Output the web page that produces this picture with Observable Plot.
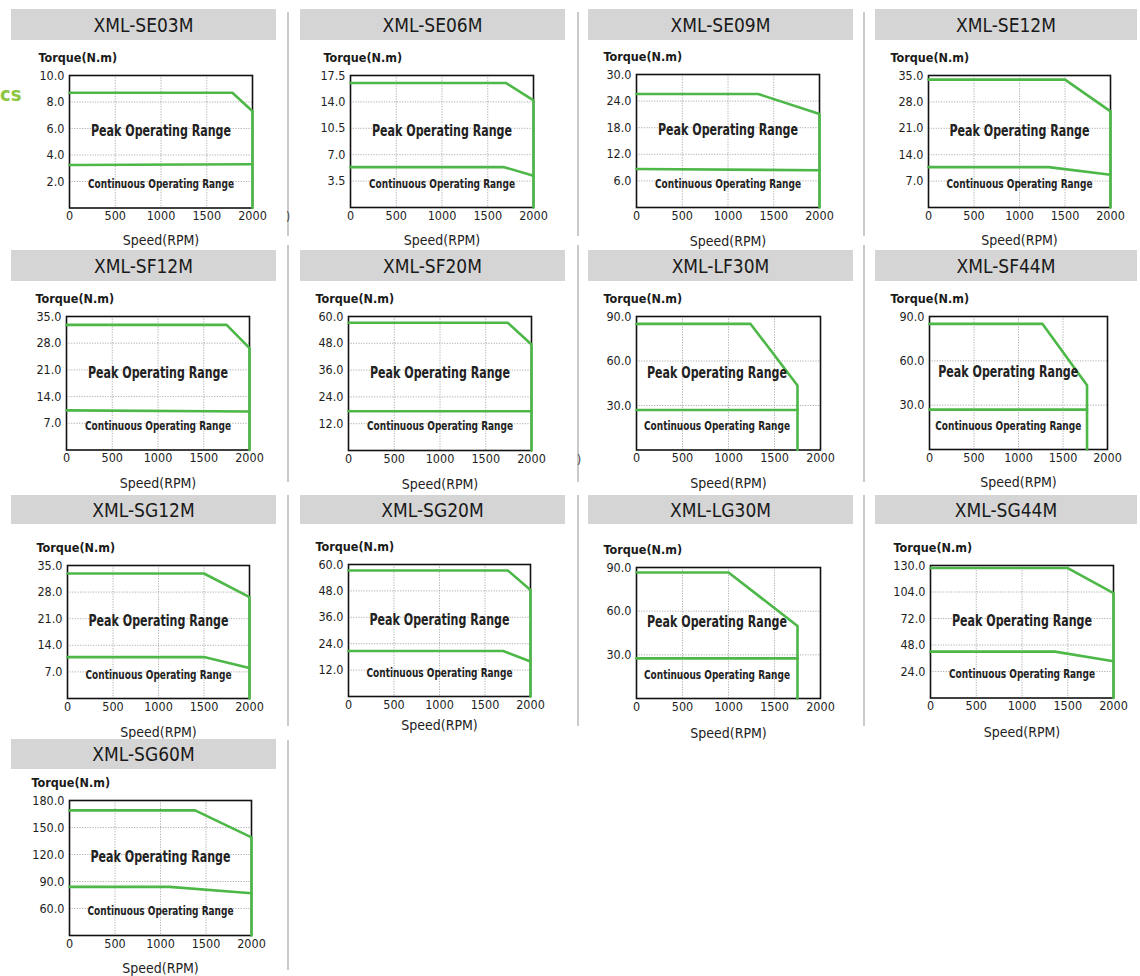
<!DOCTYPE html>
<html>
<head>
<meta charset="utf-8">
<script src="https://cdn.jsdelivr.net/npm/d3@7"></script>
<script src="https://cdn.jsdelivr.net/npm/@observablehq/plot@0.6"></script>
<style>
  body { margin: 0; background: #fff; }
  #page { position: relative; width: 1140px; height: 976px; overflow: hidden; background: #fff; color: #222; }
  .bar { position: absolute; background: #d5d5d5; display: flex; align-items: center; justify-content: center;
         font-family: "DejaVu Sans Condensed", sans-serif; font-size: 19px; color: #1a1a1a; }
  .sep { position: absolute; width: 1.5px; background: #cbcbcb; }
  .frag { position: absolute; font-family: "DejaVu Sans Condensed", sans-serif; }
</style>
</head>
<body>
<div id="page"></div>
<script>
// ---------------- data ----------------
const models = ["XML-SE03M", "XML-SE06M", "XML-SE09M", "XML-SE12M",
                "XML-SF12M", "XML-SF20M", "XML-LF30M", "XML-SF44M",
                "XML-SG12M", "XML-SG20M", "XML-LG30M", "XML-SG44M",
                "XML-SG60M"];
const xTicks = [0, 500, 1000, 1500, 2000];
const yMin = [0, 0, 0, 0, 0, 0, 0, 0, 0, 0, 0, 0, 30];
const yMax = [10, 17.5, 30, 35, 35, 60, 90, 90, 35, 60, 90, 130, 180];
const yTickLabels = [
  ["2.0", "4.0", "6.0", "8.0", "10.0"],
  ["3.5", "7.0", "10.5", "14.0", "17.5"],
  ["6.0", "12.0", "18.0", "24.0", "30.0"],
  ["7.0", "14.0", "21.0", "28.0", "35.0"],
  ["7.0", "14.0", "21.0", "28.0", "35.0"],
  ["12.0", "24.0", "36.0", "48.0", "60.0"],
  ["30.0", "60.0", "90.0"],
  ["30.0", "60.0", "90.0"],
  ["7.0", "14.0", "21.0", "28.0", "35.0"],
  ["12.0", "24.0", "36.0", "48.0", "60.0"],
  ["30.0", "60.0", "90.0"],
  ["24.0", "48.0", "72.0", "104.0", "130.0"],
  ["60.0", "90.0", "120.0", "150.0", "180.0"]
];
// Peak operating range boundary (speed RPM, torque N.m)
const peakSpeed = [
  [0, 1780, 2000, 2000], [0, 1700, 2000, 2000], [0, 1330, 2000, 2000], [0, 1500, 2000, 2000],
  [0, 1750, 2000, 2000], [0, 1740, 2000, 2000], [0, 1240, 1750, 1750], [0, 1270, 1770, 1770],
  [0, 1500, 2000, 2000], [0, 1750, 2000, 2000], [0, 1000, 1750, 1750], [0, 1500, 2000, 2000],
  [0, 1380, 2000, 2000]
];
const peakTorque = [
  [8.7, 8.7, 7.3, 0], [16.5, 16.5, 14.2, 0], [25.6, 25.6, 21.1, 0], [33.9, 33.9, 25.5, 0],
  [32.8, 32.8, 26.7, 0], [57.2, 57.2, 47.5, 0], [85, 85, 43.5, 0], [85, 85, 43.5, 0],
  [32.9, 32.9, 26.7, 0], [57.3, 57.3, 48.4, 0], [86.6, 86.6, 49.8, 0], [127.5, 127.5, 103, 0],
  [169, 169, 139, 30]
];
// Continuous operating range boundary
const contSpeed = [
  [0, 2000], [0, 1680, 2000], [0, 2000], [0, 1320, 2000],
  [0, 2000], [0, 2000], [0, 1750], [0, 1770],
  [0, 1500, 2000], [0, 1700, 2000], [0, 1750], [0, 1360, 2000],
  [0, 1100, 2000]
];
const contTorque = [
  [3.25, 3.3], [5.35, 5.35, 4.2], [8.7, 8.4], [10.7, 10.7, 8.7],
  [10.4, 10.1], [17.6, 17.6], [27, 27], [27, 27],
  [10.9, 10.9, 8.0], [20.7, 20.7, 15.9], [27.6, 27.6], [45.5, 45.5, 36],
  [84, 84, 77]
];
const rangeLabels = ["Peak Operating Range", "Continuous Operating Range"];

// ---------------- layout ----------------
// plot frame boxes [left, top, right, bottom] in page pixels
const frames = [
  [69, 74.5, 252, 207], [350, 75, 533, 207], [636, 74, 819, 207], [928, 75, 1110, 207],
  [66, 315.5, 249, 449], [348, 316, 531, 450], [636, 315.5, 820, 449], [929, 315.5, 1107, 448.5],
  [67, 564.5, 249, 697.5], [348, 563.5, 530, 695.5], [636, 566.5, 820, 697.5], [930, 565, 1113, 697.5],
  [69, 800, 251, 935]
];
const torqueDx = [-31, -27, -33, -38, -31, -33, -33, -39, -31, -33, -33, -37, -38];
const speedDy = [33, 33, 34, 33, 33.5, 34, 34, 33.5, 34.5, 29.5, 35.5, 34.5, 33];
const barCols = [[11, 276], [300, 565], [588, 853], [875, 1137]];
const barRows = [[9, 31], [250, 31], [495, 29], [739, 30]];
const seps = [[287, 12, 236], [577, 12, 236], [863, 12, 236],
              [287, 245, 482], [577, 245, 482], [863, 245, 482],
              [287, 495, 726], [577, 495, 726], [863, 495, 726],
              [287, 740, 970]];
const labelStyle = [{size: 15.5, len: 140}, {size: 12.5, len: 146}];

const green = "#4db848";
const cond = '"DejaVu Sans Condensed", "DejaVu Sans", sans-serif';
const page = document.getElementById("page");

// separators
for (const [x, y1, y2] of seps) {
  const d = document.createElement("div");
  d.className = "sep";
  d.style.left = x + "px"; d.style.top = y1 + "px"; d.style.height = (y2 - y1) + "px";
  page.appendChild(d);
}

// cropped fragments at page edges
const frags = [
  {t: "cs", x: 0, y: 82, size: 20, color: "#8cc63f", w: "bold"},
  {t: ")", x: 286, y: 210, size: 12, color: "#444", w: "normal"},
  {t: ")", x: 577, y: 453, size: 12, color: "#444", w: "normal"}
];
for (const f of frags) {
  const d = document.createElement("div");
  d.className = "frag";
  d.textContent = f.t;
  Object.assign(d.style, {left: f.x + "px", top: f.y + "px", fontSize: f.size + "px", color: f.color, fontWeight: f.w});
  page.appendChild(d);
}

models.forEach((name, i) => {
  const col = i % 4, row = Math.floor(i / 4);
  // title bar
  const bar = document.createElement("div");
  bar.className = "bar";
  bar.textContent = name;
  bar.style.left = barCols[col][0] + "px";
  bar.style.width = (barCols[col][1] - barCols[col][0]) + "px";
  bar.style.top = barRows[row][0] + "px";
  bar.style.height = barRows[row][1] + "px";
  page.appendChild(bar);

  const [fl, ft, fr, fb] = frames[i];
  const mL = 50, mR = 25, mT = 32, mB = 45;
  const lo = yMin[i], hi = yMax[i];
  const labels = yTickLabels[i];
  const n = labels.length;
  const tickPos = labels.map((_, j) => lo + (j + 1) * (hi - lo) / n);
  const fmt = new Map(tickPos.map((p, j) => [p, labels[j]]));
  const peak = peakSpeed[i].map((s, j) => ({speed: s, torque: peakTorque[i][j]}));
  const cont = contSpeed[i].map((s, j) => ({speed: s, torque: contTorque[i][j]}));
  const end = peakSpeed[i][peakSpeed[i].length - 1];
  const notes = [
    {speed: end / 2, torque: hi - 0.42 * (hi - lo), label: rangeLabels[0], size: labelStyle[0].size},
    {speed: end / 2, torque: hi - 0.82 * (hi - lo), label: rangeLabels[1], size: labelStyle[1].size}
  ];
  const grid = {stroke: "#9a9a9a", strokeOpacity: 1, strokeWidth: 0.8, strokeDasharray: "1.2,1.4"};

  const svg = Plot.plot({
    width: fr - fl + mL + mR,
    height: fb - ft + mT + mB,
    marginLeft: mL, marginRight: mR, marginTop: mT, marginBottom: mB,
    style: {background: "transparent", overflow: "visible", fontFamily: cond, fontSize: "12px", color: "#1e1e1e"},
    x: {domain: [0, 2000], axis: null},
    y: {domain: [lo, hi], axis: null},
    marks: [
      Plot.gridX(xTicks.slice(1, -1), grid),
      Plot.gridY(tickPos.slice(0, -1), grid),
      Plot.axisX(xTicks, {anchor: "bottom", tickSize: 0, tickPadding: 3.5, label: null, fontSize: 12.5, tickFormat: d => String(d)}),
      Plot.axisY(tickPos, {anchor: "left", tickSize: 0, tickPadding: 5, label: null, fontSize: 12.5, tickFormat: d => fmt.get(d)}),
      Plot.frame({stroke: "#111", strokeWidth: 1.6}),
      Plot.line(cont, {x: "speed", y: "torque", stroke: green, strokeWidth: 2.6}),
      Plot.line(peak, {x: "speed", y: "torque", stroke: green, strokeWidth: 2.6}),
      Plot.text(notes, {x: "speed", y: "torque", text: "label", fontSize: "size", fontWeight: "bold", fill: "#222"}),
      Plot.text(["Torque(N.m)"], {frameAnchor: "top-left", dx: torqueDx[i], dy: -17.5, textAnchor: "start", lineAnchor: "middle", fontWeight: "bold", fontSize: 12.5, fill: "#1a1a1a"}),
      Plot.text(["Speed(RPM)"], {frameAnchor: "bottom", dy: speedDy[i], lineAnchor: "middle", fontSize: 14, fill: "#222"})
    ]
  });
  // condense the range annotations to the width they occupy in the original
  d3.select(svg).selectAll("text").each(function () {
    const k = rangeLabels.indexOf(this.textContent);
    if (k >= 0) {
      this.setAttribute("textLength", labelStyle[k].len);
      this.setAttribute("lengthAdjust", "spacingAndGlyphs");
    }
  });
  svg.style.position = "absolute";
  svg.style.left = (fl - mL) + "px";
  svg.style.top = (ft - mT) + "px";
  page.appendChild(svg);
});
</script>
</body>
</html>
